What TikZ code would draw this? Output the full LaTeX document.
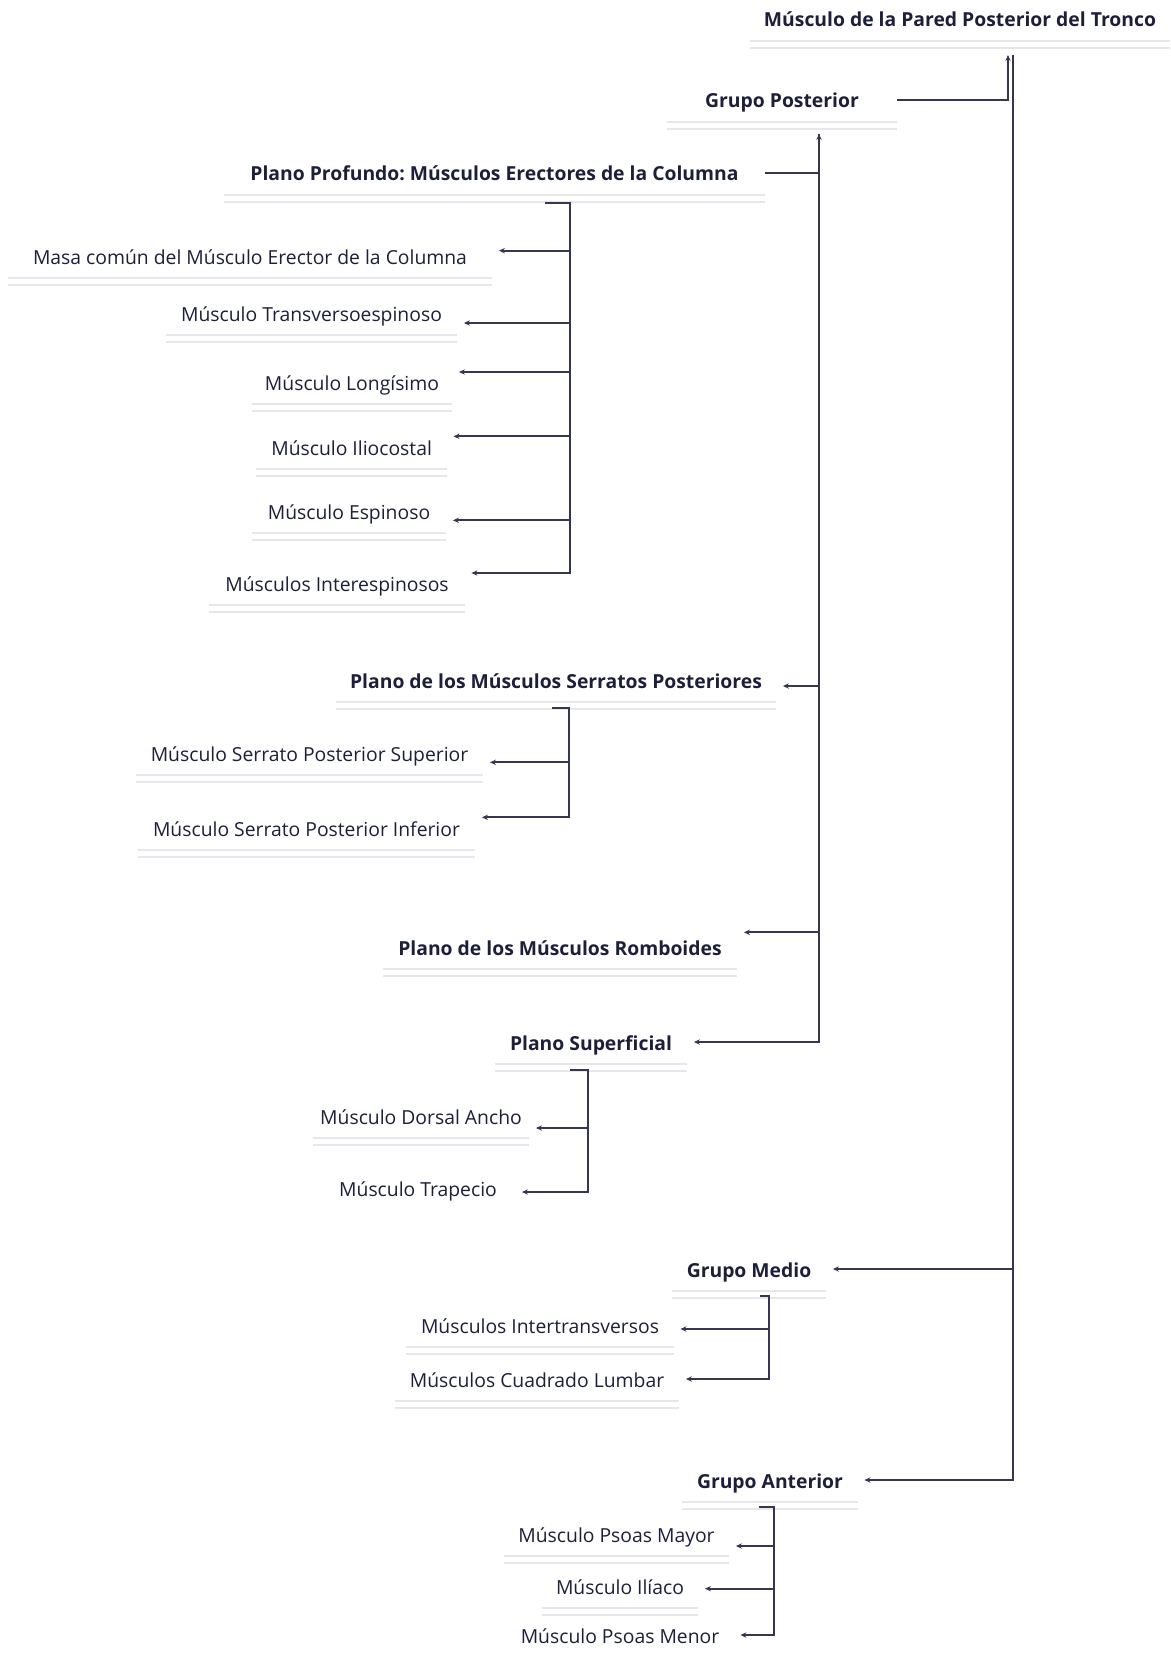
\documentclass[tikz,border=0pt]{standalone}
\usepackage{fontspec}
\setmainfont{Open Sans}
\frenchspacing
\usepackage{tikz}
\usetikzlibrary{arrows.meta}
\definecolor{inkColor}{RGB}{28,31,58}
\definecolor{lineColor}{RGB}{52,54,82}
\definecolor{ruleColor}{RGB}{230,230,236}
\tikzstyle{muscle} = [inner sep=0pt, minimum height=37.5pt, text height=13pt, text depth=1pt, text=inkColor, font=\fontsize{14.5}{17}\selectfont]
\tikzstyle{group} = [muscle, font=\fontsize{14.5}{17}\selectfont\bfseries]
\tikzstyle{rule} = [draw=ruleColor, line width=1.5pt, double=white, double distance=3.4pt]
\tikzstyle{line} = [draw=lineColor, line width=1.5pt]
\tikzstyle{arrow} = [line, -{Stealth[length=4.5pt,width=4pt]}, shorten >=5pt]
\tikzstyle{uparrow} = [line, -{Stealth[length=4.5pt,width=4pt]}]

\begin{document}
\begin{tikzpicture}[x=0.75pt, y=-0.75pt]
        \useasboundingbox (0,0) rectangle (1170,1655);
        \clip (0,0) rectangle (1170,1655);

        \node (tronco) [group, minimum width=315pt] at (960,19) {Músculo de la Pared Posterior del Tronco};
        \node (posterior) [group, minimum width=172.5pt] at (782,100) {Grupo Posterior};
        \node (profundo) [group, minimum width=405.75pt] at (494.5,173) {Plano Profundo: Músculos Erectores de la Columna};
        \node (masa) [muscle, minimum width=363pt] at (250,256) {Masa común del Músculo Erector de la Columna};
        \node (transverso) [muscle, minimum width=218.25pt] at (311.5,313) {Músculo Transversoespinoso};
        \node (longisimo) [muscle, minimum width=150pt] at (352,382) {Músculo Longísimo};
        \node (iliocostal) [muscle, minimum width=142.5pt] at (351.6,447) {Músculo Iliocostal};
        \node (espinoso) [muscle, minimum width=145.5pt] at (349,511) {Músculo Espinoso};
        \node (interesp) [muscle, minimum width=191.25pt] at (337,583) {Músculos Interespinosos};
        \node (serratos) [group, minimum width=330pt] at (556,680) {Plano de los Músculos Serratos Posteriores};
        \node (serratoSup) [muscle, minimum width=260.25pt] at (309.5,753) {Músculo Serrato Posterior Superior};
        \node (serratoInf) [muscle, minimum width=252.75pt] at (306.5,828) {Músculo Serrato Posterior Inferior};
        \node (romboides) [group, minimum width=265.5pt] at (560,947) {Plano de los Músculos Romboides};
        \node (superficial) [group, minimum width=144pt] at (591,1042) {Plano Superficial};
        \node (dorsal) [muscle, minimum width=162pt] at (421,1116) {Músculo Dorsal Ancho};
        \node (trapecio) [muscle, minimum width=145.5pt] at (418,1188) {Músculo Trapecio};
        \node (medio) [group, minimum width=115.5pt] at (749,1269) {Grupo Medio};
        \node (intertrans) [muscle, minimum width=200.25pt] at (540,1325) {Músculos Intertransversos};
        \node (cuadrado) [muscle, minimum width=213pt] at (537,1379) {Músculos Cuadrado Lumbar};
        \node (anterior) [group, minimum width=131.25pt] at (770,1480) {Grupo Anterior};
        \node (psoasMayor) [muscle, minimum width=168.75pt] at (616.5,1534) {Músculo Psoas Mayor};
        \node (iliaco) [muscle, minimum width=117pt] at (620,1586) {Músculo Ilíaco};
        \node (psoasMenor) [muscle, minimum width=170.25pt] at (620,1635) {Músculo Psoas Menor};

        \foreach \n in {tronco, posterior, profundo, masa, transverso, longisimo, iliocostal, espinoso, interesp, serratos, serratoSup, serratoInf, romboides, superficial, dorsal, medio, intertrans, cuadrado, anterior, psoasMayor, iliaco, psoasMenor}
            \draw [rule] (\n.south west) -- (\n.south east);

        \coordinate (kTitulo) at (1008,55);
        \coordinate (kTronco) at (1013,55);
        \coordinate (kPosterior) at (819,134);
        \coordinate (pA) at (545,203);
        \coordinate (pB) at (570,203);
        \coordinate (sA) at (552,708);
        \coordinate (sB) at (569,708);
        \coordinate (fA) at (570,1070);
        \coordinate (fB) at (588,1070);
        \coordinate (mA) at (760,1296);
        \coordinate (mB) at (769,1296);
        \coordinate (aA) at (759,1507);
        \coordinate (aB) at (774,1507);

        \draw [uparrow] (posterior.east) -| (kTitulo);
        \draw [uparrow] (profundo.east) -| (kPosterior);
        \foreach \n/\d in {medio/0, anterior/0}
            \draw [arrow] (kTronco) |- ([yshift=\d]\n.east);
        \foreach \n/\d in {serratos/-4.5, romboides/11, superficial/0}
            \draw [arrow] (kPosterior) |- ([yshift=\d]\n.east);
        \foreach \n/\d in {masa/4, transverso/-7.5, longisimo/7.5, iliocostal/8, espinoso/-7, interesp/7.5}
            \draw [arrow] (pA) -- (pB) |- ([yshift=\d]\n.east);
        \foreach \n/\d in {serratoSup/-7, serratoInf/8}
            \draw [arrow] (sA) -- (sB) |- ([yshift=\d]\n.east);
        \foreach \n/\d in {dorsal/-9, trapecio/-3}
            \draw [arrow] (fA) -- (fB) |- ([yshift=\d]\n.east);
        \foreach \n/\d in {intertrans/-3, cuadrado/0}
            \draw [arrow] (mA) -- (mB) |- ([yshift=\d]\n.east);
        \foreach \n/\d in {psoasMayor/-9, iliaco/-2, psoasMenor/0}
            \draw [arrow] (aA) -- (aB) |- ([yshift=\d]\n.east);
\end{tikzpicture}
\end{document}
